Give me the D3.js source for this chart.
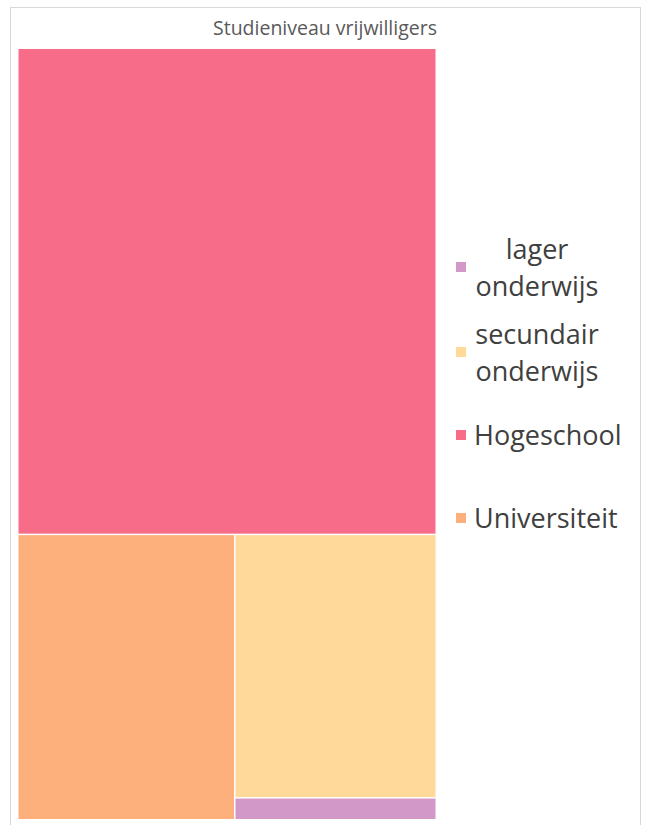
<!DOCTYPE html>
<html>
<head>
<meta charset="utf-8">
<script src="https://cdn.jsdelivr.net/npm/d3@7"></script>
<style>
  body { margin: 0; background: #fff; }
  svg { display: block; }
</style>
</head>
<body>
<div id="chart"></div>
<script>
const title = "Studieniveau vrijwilligers";
const categories = ["lager onderwijs", "secundair onderwijs", "Hogeschool", "Universiteit"];
const legendLines = [["lager", "onderwijs"], ["secundair", "onderwijs"], ["Hogeschool"], ["Universiteit"]];
const values = [1, 12, 46, 14];
const colors = ["#d298c8", "#fed999", "#f76c89", "#fdb07b"];

const WIDTH = 645;
const HEIGHT = 825;

const svg = d3
  .select("#chart")
  .append("svg")
  .attr("width", WIDTH)
  .attr("height", HEIGHT);

// chart frame
svg
  .append("rect")
  .attr("x", 10.5)
  .attr("y", 7.5)
  .attr("width", 630)
  .attr("height", 830)
  .attr("fill", "#fff")
  .attr("stroke", "#d9d9d9")
  .attr("stroke-width", 1);

// title
svg
  .append("text")
  .attr("x", 325)
  .attr("y", 35)
  .attr("text-anchor", "middle")
  .style("font-family", "'Open Sans', sans-serif")
  .style("font-size", "19.5px")
  .style("fill", "#595959")
  .text(title);

// treemap
const color = d3.scaleOrdinal().domain(categories).range(colors);

const root = d3
  .hierarchy({ children: categories.map((c, i) => ({ name: c, value: values[i] })) })
  .sum((d) => d.value || 0)
  .sort((a, b) => b.value - a.value);

d3.treemap().tile(d3.treemapSquarify.ratio(1)).size([417, 770]).paddingInner(1.5)(root);

const plot = svg.append("g").attr("transform", "translate(18.5,49)");

plot
  .selectAll("rect")
  .data(root.leaves())
  .enter()
  .append("rect")
  .attr("x", (d) => d.x0)
  .attr("y", (d) => d.y0)
  .attr("width", (d) => d.x1 - d.x0)
  .attr("height", (d) => d.y1 - d.y0)
  .attr("fill", (d) => color(d.data.name));

// legend
const legendY = d3.scaleOrdinal().domain(categories).range([267, 352, 435, 518]);
const lineH = 37;

const legend = svg
  .selectAll(".legend")
  .data(categories)
  .enter()
  .append("g")
  .attr("class", "legend");

legend
  .append("rect")
  .attr("x", 456)
  .attr("y", (d) => legendY(d) - 5)
  .attr("width", 10)
  .attr("height", 10)
  .attr("fill", (d) => color(d));

legend.each(function (d, i) {
  const lines = legendLines[i];
  const g = d3.select(this);
  const multi = lines.length > 1;
  lines.forEach((ln, j) => {
    g.append("text")
      .attr("x", multi ? 537 : 474)
      .attr("y", legendY(d) + 10 + (j - (lines.length - 1) / 2) * lineH)
      .attr("text-anchor", multi ? "middle" : "start")
      .style("font-family", "'Open Sans', sans-serif")
      .style("font-size", "27px")
      .style("fill", "#404040")
      .text(ln);
  });
});
</script>
</body>
</html>
